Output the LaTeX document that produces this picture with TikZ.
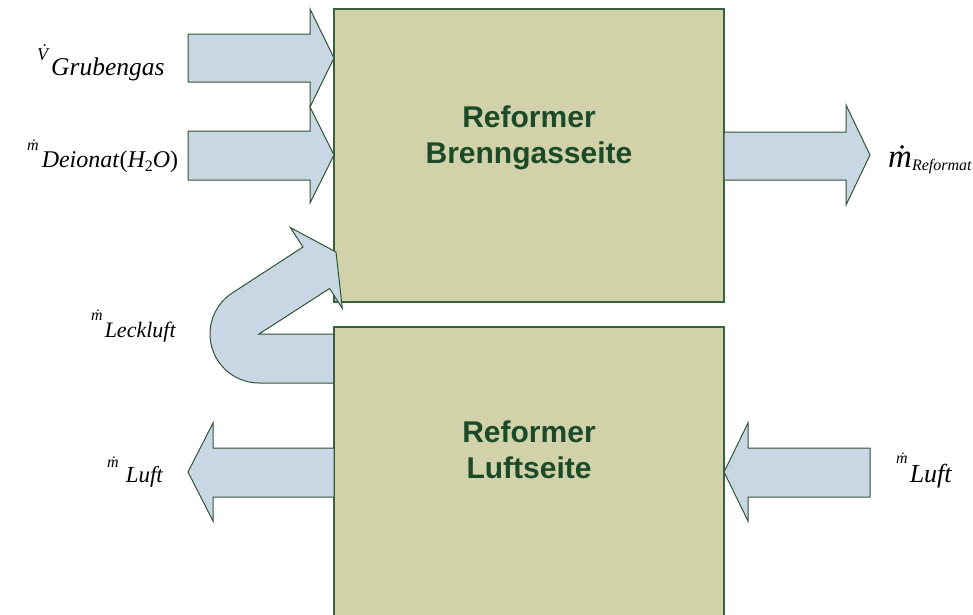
\documentclass[tikz,border=0pt]{standalone}
\usepackage{fontspec}
\setmainfont{Liberation Serif}
\newfontfamily\arialfont{Liberation Sans}
\definecolor{boxfill}{RGB}{209,210,170}
\definecolor{boxline}{RGB}{58,96,66}
\definecolor{arrowfill}{RGB}{201,214,228}
\definecolor{arrowline}{RGB}{45,85,50}
\definecolor{txtgreen}{RGB}{28,74,40}
\newcommand\dotacc[1]{{\accent"02D9 #1}}
\newcommand\fsz[1]{\fontsize{#1}{#1}\selectfont}
\begin{document}
\begin{tikzpicture}[x=1pt,y=-1pt,
  block/.style={draw=boxline,fill=boxfill,line width=1.3pt,inner sep=0pt,outer sep=0pt},
  flow/.style={draw=arrowline,fill=arrowfill,line width=1pt,line join=miter},
  boxtext/.style={font=\arialfont\bfseries\fontsize{30}{36}\selectfont,text=txtgreen,align=center,inner sep=0pt},
  lab/.style={anchor=base west,inner sep=0pt,font=\itshape}]
\useasboundingbox (0,0) rectangle (973,614);
% top block
\node[block,minimum width=390pt,minimum height=293pt] (top) at (529,155.5) {};
% inflow arrows
\draw[flow] (188,34) -- (310,34) -- (310,9) -- (334,58) -- (310,107) -- (310,82) -- (188,82) -- cycle;
\draw[flow] (188,131) -- (310,131) -- (310,107) -- (334,155) -- (310,203) -- (310,180) -- (188,180) -- cycle;
% outflow reformat
\draw[flow] (724,132) -- (846,132) -- (846,105) -- (870,155) -- (846,205) -- (846,180) -- (724,180) -- cycle;
% U-turn leak air
\draw[flow] (334,383) -- (259,383) arc[start angle=90,end angle=237.2,radius=49]
  -- (303,247) -- (290.3,227.5) -- (336,252) -- (342.3,308.3) -- (329.6,288.5)
  -- (259,334) -- (334,334) -- cycle;
% bottom block
\node[block,minimum width=390pt,minimum height=313pt] (bot) at (529,483.5) {};
% air arrows
\draw[flow] (334,448) -- (213,448) -- (213,423) -- (188,472) -- (213,521) -- (213,497) -- (334,497) -- cycle;
\draw[flow] (870,448) -- (748,448) -- (748,423) -- (724,472) -- (748,521) -- (748,497) -- (870,497) -- cycle;
% block texts
\node[boxtext] (ttop) at (529,138) {Reformer\\Brenngasseite};
\node[boxtext] (tbot) at (529,450) {Reformer\\Luftseite};
% labels
\node[lab] (lgas) at (37,60) {\fsz{18}\dotacc{V}\hspace{3pt}\raisebox{-15pt}{\fsz{25.5}Grubengas}};
\node[lab] (ldei) at (27,150) {\fsz{16}\dotacc{m}\hspace{3pt}\raisebox{-17pt}{\fsz{24}Deionat\textup{(}H\raisebox{-4pt}{\fsz{16}\upshape 2}O\textup{)}}};
\node[lab] (lref) at (888,167) {\fsz{33}\dotacc{m}\raisebox{-3pt}{\fsz{16}Reformat}};
\node[lab] (lleck) at (91,320) {\fsz{16}\dotacc{m}\hspace{2pt}\raisebox{-17pt}{\fsz{22}Leckluft}};
\node[lab] (lluftl) at (107,467) {\fsz{16}\dotacc{m}\hspace{7pt}\raisebox{-15pt}{\fsz{23}Luft}};
\node[lab] (lluftr) at (896,463) {\fsz{16}\dotacc{m}\hspace{2pt}\raisebox{-19pt}{\fsz{26}Luft}};
\end{tikzpicture}
\end{document}
